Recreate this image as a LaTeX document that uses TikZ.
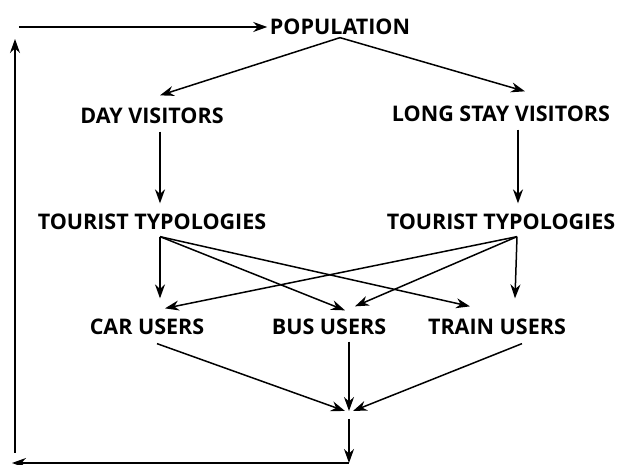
\documentclass[tikz,border=0pt]{standalone}
\usepackage{fontspec}
\setmainfont{Open Sans}
\usetikzlibrary{arrows.meta,positioning}

\begin{document}
\begin{tikzpicture}[>={Stealth[length=14pt,width=10pt]},line width=1.5pt,on grid,
    term/.style={font=\fontsize{21.5}{24}\selectfont\bfseries,inner sep=2pt}]
    \useasboundingbox (-340pt,27pt) rectangle (282pt,-438pt);
    \node[term] (pop) {POPULATION};
    \node[term] (day) [below left = 89pt and 188pt of pop] {DAY VISITORS};
    \node[term] (long) [below right = 87pt and 161pt of pop] {LONG STAY VISITORS};
    \node[term] (tt1) [below = 106pt of day] {TOURIST TYPOLOGIES};
    \node[term] (tt2) [below = 108pt of long] {TOURIST TYPOLOGIES};
    \node[term] (car) [below left = 105pt and 5pt of tt1] {CAR USERS};
    \node[term] (bus) [right = 182pt of car] {BUS USERS};
    \node[term] (train) [right = 168pt of bus] {TRAIN USERS};
    \coordinate[below right = 86pt and 20pt of bus] (merge);
    \coordinate[below = 50pt of merge] (corner);
    \coordinate[left = 337pt of corner] (back);
    \coordinate[above left = 10pt and 334pt of corner] (up0);
    \coordinate[above = 414pt of up0] (up1);
    \coordinate[left = 321pt of pop] (start);
    % top split
    \draw[->] (pop.south) -- ([xshift=8pt,yshift=10pt]day.north);
    \draw[->] (pop.south) -- ([xshift=24pt,yshift=12pt]long.north);
    \draw[->,shorten <=5pt,shorten >=8pt] ([xshift=8pt]day.south) -- ([xshift=8pt]tt1.north);
    \draw[->,shorten <=5pt,shorten >=8pt] ([xshift=17pt]long.south) -- ([xshift=17pt]tt2.north);
    % typologies to users
    \draw[->] ([xshift=8pt,yshift=-4pt]tt1.south) -- ([xshift=13pt,yshift=18pt]car.north);
    \draw[->] ([xshift=8pt,yshift=-4pt]tt1.south) -- ([xshift=16pt,yshift=6pt]bus.north);
    \draw[->] ([xshift=8pt,yshift=-4pt]tt1.south) -- ([xshift=-27pt,yshift=10pt]train.north);
    \draw[->] ([xshift=16pt,yshift=-4pt]tt2.south) -- ([xshift=18pt,yshift=8pt]car.north);
    \draw[->] ([xshift=16pt,yshift=-4pt]tt2.south) -- ([xshift=26pt,yshift=10pt]bus.north);
    \draw[->] ([xshift=16pt,yshift=-4pt]tt2.south) -- ([xshift=18pt,yshift=18pt]train.north);
    % users to the feedback loop
    \draw[->] ([xshift=10pt,yshift=-6pt]car.south) -- ([xshift=-4pt,yshift=2pt]merge);
    \draw[->] ([xshift=20pt,yshift=-4pt]bus.south) -- ([yshift=2pt]merge);
    \draw[->] ([xshift=25pt,yshift=-6pt]train.south) -- ([xshift=4pt,yshift=2pt]merge);
    \draw[->] ([yshift=-6pt]merge) -- (corner);
    \draw[->] (corner) -- (back);
    \draw[->] (up0) -- (up1);
    \draw[->] (start) -- (pop.west);
\end{tikzpicture}
\end{document}
